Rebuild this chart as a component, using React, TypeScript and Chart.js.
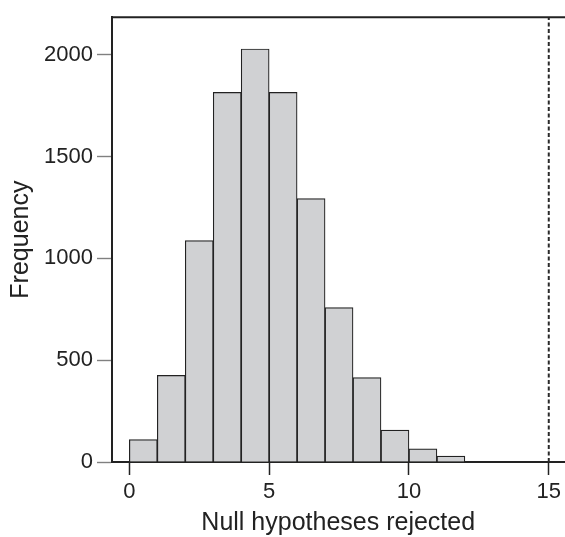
import React, { useEffect, useRef } from 'react';
import { Chart, registerables } from 'chart.js';

Chart.register(...registerables);

// Histogram bins (left edges, unit width) and frequencies
const binEdges = [0, 1, 2, 3, 4, 5, 6, 7, 8, 9, 10, 11];
const frequencies = [110, 425, 1087, 1815, 2028, 1815, 1293, 758, 414, 157, 65, 29];
const xTickValues = [0, 5, 10, 15];
const yTickValues = [0, 500, 1000, 1500, 2000];
const thresholdValue = 15;
const xLabel = 'Null hypotheses rejected';
const yLabel = 'Frequency';

const X_MIN = -0.62;
const X_MAX = 15.56;
const Y_MAX = 2184;

const FONT = '"Liberation Sans", Arial, Helvetica, sans-serif';
const INK = '#222222';

const topBorder = {
  id: 'topBorder',
  afterDraw(chart: any) {
    const { ctx, chartArea } = chart;
    ctx.save();
    ctx.strokeStyle = INK;
    ctx.lineWidth = 2;
    ctx.beginPath();
    ctx.moveTo(chartArea.left - 1, chartArea.top);
    ctx.lineTo(chartArea.right + 2, chartArea.top);
    ctx.stroke();
    ctx.restore();
  },
};

export default function App() {
  const ref = useRef<HTMLCanvasElement | null>(null);

  useEffect(() => {
    if (!ref.current) return;
    const barData = frequencies.map((f, i) => ({ x: binEdges[i] + 0.5, y: f }));
    const chart = new Chart(ref.current, {
      type: 'bar',
      data: {
        datasets: [
          {
            type: 'bar',
            data: barData as any,
            backgroundColor: '#d0d1d3',
            borderColor: INK,
            borderWidth: 1.2,
            barPercentage: 1,
            categoryPercentage: 1,
            order: 2,
          } as any,
          {
            type: 'line',
            data: [
              { x: thresholdValue, y: 0 },
              { x: thresholdValue, y: Y_MAX },
            ] as any,
            borderColor: '#2a2a2a',
            borderWidth: 2,
            borderDash: [4, 2.5],
            pointRadius: 0,
            fill: false,
            order: 1,
          } as any,
        ],
      },
      options: {
        animation: false,
        responsive: false,
        devicePixelRatio: 1,
        layout: { padding: { top: 10, left: 0, right: 0, bottom: 0 } },
        plugins: { legend: { display: false }, tooltip: { enabled: false } },
        scales: {
          x: {
            type: 'linear',
            min: X_MIN,
            max: X_MAX,
            offset: false,
            afterFit(scale: any) {
              scale.height = 75;
            },
            afterBuildTicks(scale: any) {
              scale.ticks = xTickValues.map((v) => ({ value: v }));
            },
            grid: {
              offset: false,
              drawOnChartArea: false,
              drawTicks: true,
              tickLength: 13,
              tickColor: INK,
              tickWidth: 1.5,
            },
            border: { display: true, color: INK, width: 2 },
            ticks: {
              color: INK,
              padding: 4,
              font: { family: FONT, size: 22 },
              maxRotation: 0,
              autoSkip: false,
              callback: (v: any) => String(v),
            },
            title: {
              display: true,
              text: xLabel,
              color: INK,
              font: { family: FONT, size: 25, lineHeight: 1 },
              padding: { top: 0, bottom: 1 },
            },
          },
          y: {
            type: 'linear',
            min: 0,
            max: Y_MAX,
            afterFit(scale: any) {
              scale.width = 112;
            },
            afterBuildTicks(scale: any) {
              scale.ticks = yTickValues.map((v) => ({ value: v }));
            },
            grid: {
              offset: false,
              drawOnChartArea: false,
              drawTicks: true,
              tickLength: 15,
              tickColor: '#808080',
              tickWidth: 1.4,
            },
            border: { display: true, color: INK, width: 2 },
            ticks: {
              color: INK,
              padding: 4,
              font: { family: FONT, size: 22 },
              autoSkip: false,
              callback: (v: any) => String(v),
            },
            title: {
              display: true,
              text: yLabel,
              color: INK,
              font: { family: FONT, size: 25, lineHeight: 1 },
              padding: { top: 9, bottom: 0 },
            },
          },
        },
      },
      plugins: [topBorder],
    });
    return () => chart.destroy();
  }, []);

  return (
    <div
      style={{
        position: 'fixed',
        left: 0,
        top: 0,
        width: 565,
        height: 537,
        background: '#ffffff',
        overflow: 'hidden',
      }}
    >
      <canvas ref={ref} width={565} height={537} style={{ display: 'block' }} />
    </div>
  );
}
